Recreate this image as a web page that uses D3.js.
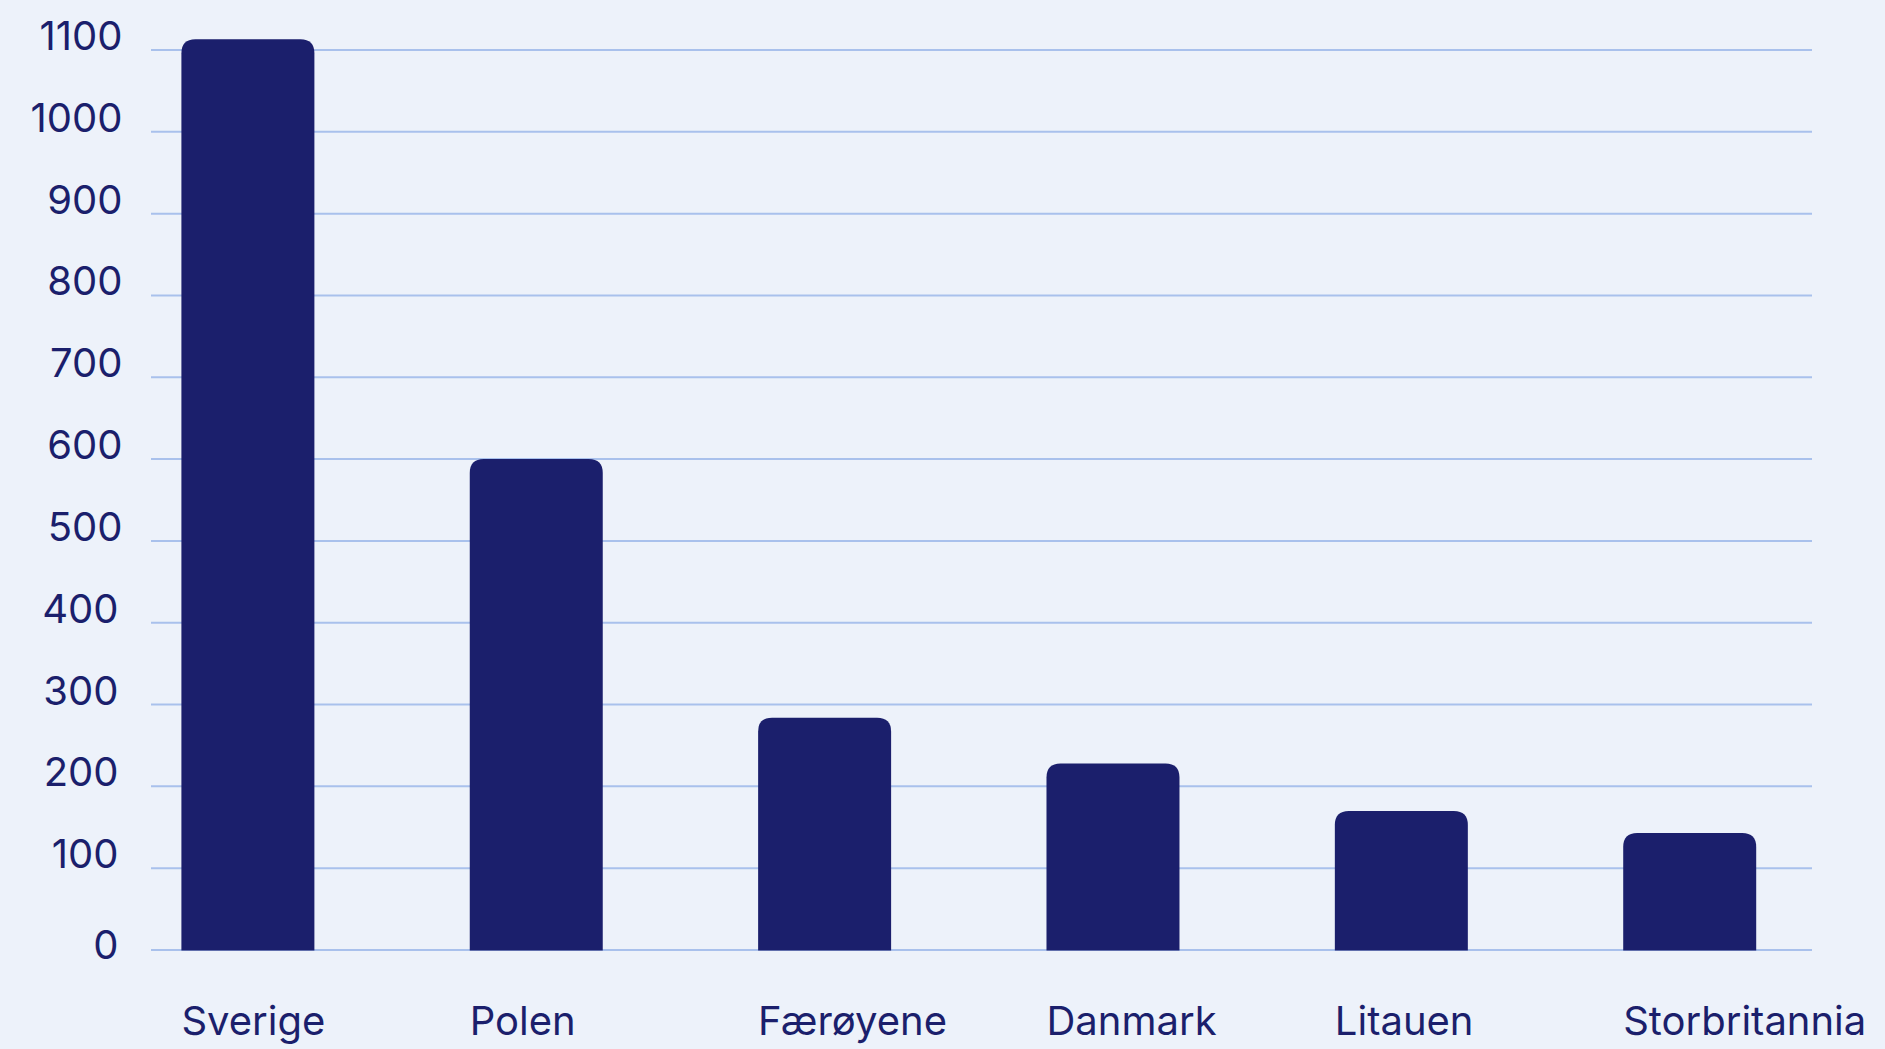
<!DOCTYPE html>
<html><head><meta charset="utf-8">
<script src="https://cdn.jsdelivr.net/npm/d3@7"></script>
<style>
html,body{margin:0;padding:0;background:#edf2fa;}
svg{display:block;}
text{font-family:Inter, "Noto Sans", sans-serif;}
</style>
</head><body>
<svg id="chart" width="1885" height="1049"></svg>
<script>
const categories = ["Sverige","Polen","Færøyene","Danmark","Litauen","Storbritannia"];
const values = [1113,600,284,228,170,143];
const yTicks = [0,100,200,300,400,500,600,700,800,900,1000,1100];

const svg = d3.select("#chart");
const barColor = "#1b1f6c", textColor = "#1b1f6c", gridColor = "#a9c1ec";

const x = d3.scaleBand().domain(categories).range([181.4, 1756.2]).paddingInner(0.5388).paddingOuter(0);
const y = d3.scaleLinear().domain([0,1100]).range([950,50]);

svg.append("rect").attr("width",1885).attr("height",1049).attr("fill","#edf2fa");

// gridlines
svg.append("g").selectAll("line").data(yTicks).join("line")
  .attr("x1",151).attr("x2",1812)
  .attr("y1",d=>y(d)).attr("y2",d=>y(d))
  .attr("stroke",gridColor).attr("stroke-width",2);

// tick labels
svg.append("g").selectAll("text").data(yTicks).join("text")
  .attr("x",d=> d>=500 ? 122.5 : 118.5)
  .attr("y",d=>y(d))
  .attr("dy",d=> d===0 ? 9 : 0)
  .attr("text-anchor","end")
  .attr("font-size",40)
  .attr("fill",textColor)
  .text(d=>d);

// bars with rounded top corners
function topRounded(x0,y0,w,h,r){
  r=Math.min(r,h,w/2);
  return `M${x0},${y0+h}V${y0+r}Q${x0},${y0} ${x0+r},${y0}H${x0+w-r}Q${x0+w},${y0} ${x0+w},${y0+r}V${y0+h}Z`;
}
const data = categories.map((c,i)=>({c, v:values[i]}));
svg.append("g").selectAll("path").data(data).join("path")
  .attr("d",d=>topRounded(x(d.c), y(d.v), x.bandwidth(), y(0)-y(d.v)+0.5, 14))
  .attr("fill",barColor);

// category labels
svg.append("g").selectAll("text").data(categories).join("text")
  .attr("x",d=>x(d))
  .attr("y",1035)
  .attr("text-anchor","start")
  .attr("font-size",40)
  .attr("fill",textColor)
  .text(d=>d);
</script>
</body></html>
